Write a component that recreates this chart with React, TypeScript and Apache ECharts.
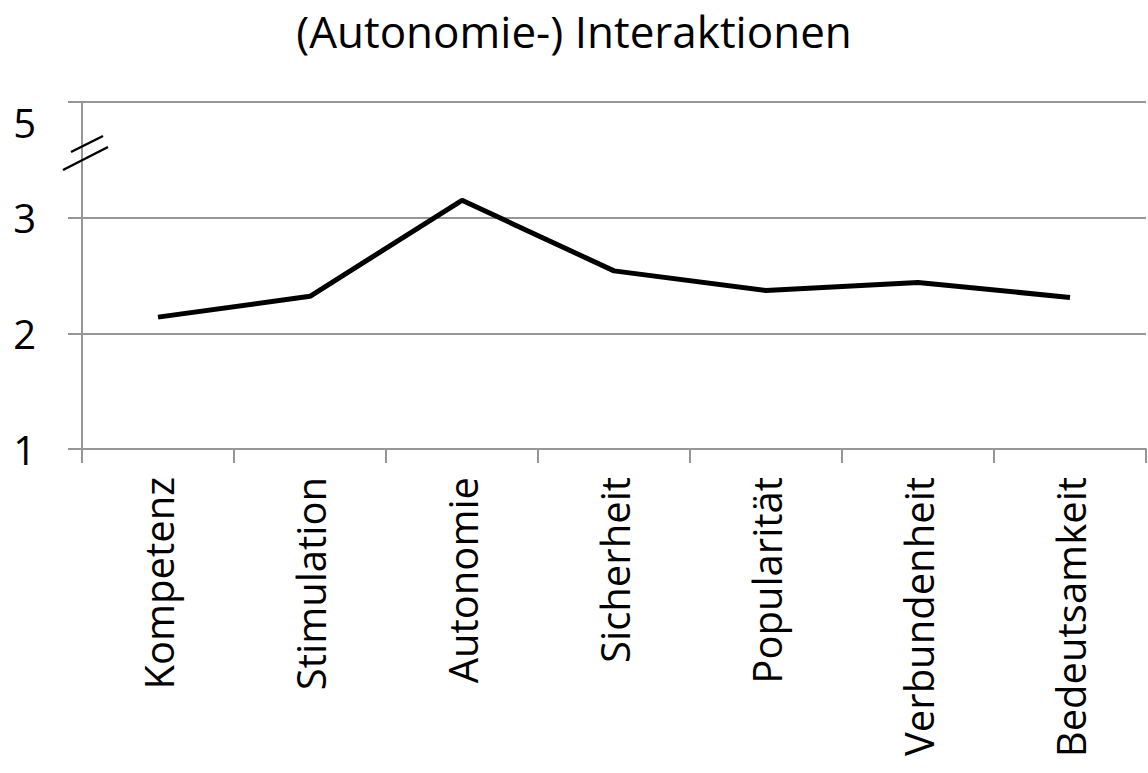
import React, { useEffect, useRef } from "react";
import * as echarts from "echarts";

const categories = ["Kompetenz", "Stimulation", "Autonomie", "Sicherheit", "Popularität", "Verbundenheit", "Bedeutsamkeit"];
const values = [2.14, 2.32, 3.15, 2.54, 2.37, 2.44, 2.31];
// axis position 4 is shown as "5" (broken axis)
const yTickLabels: Record<number, string> = { 1: "1", 2: "2", 3: "3", 4: "{top|5}" };
const title = "(Autonomie-) Interaktionen";

const FONT = "'Open Sans', sans-serif";
const GRAY = "#969696";

export default function App() {
  const ref = useRef<HTMLDivElement>(null);
  useEffect(() => {
    if (!ref.current) return;
    const chart = echarts.init(ref.current, undefined, { renderer: "svg" });
    chart.setOption({
      animation: false,
      backgroundColor: "#ffffff",
      title: {
        text: title,
        left: "center",
        top: 4,
        textStyle: { fontFamily: FONT, fontSize: 44, fontWeight: "normal", color: "#000" },
      },
      grid: { left: 82, right: 2, top: 102, bottom: 324, containLabel: false },
      xAxis: {
        type: "category",
        data: categories,
        boundaryGap: true,
        axisLine: { show: true, lineStyle: { color: GRAY, width: 2 } },
        axisTick: { show: true, length: 14, interval: 0, lineStyle: { color: GRAY, width: 2 } },
        axisLabel: {
          rotate: 90,
          interval: 0,
          margin: 28,
          fontFamily: FONT,
          fontSize: 40,
          color: "#000",
        },
      },
      yAxis: {
        type: "value",
        min: 1,
        max: 4,
        interval: 1,
        axisLine: { show: true, lineStyle: { color: GRAY, width: 2 } },
        axisTick: { show: true, length: 14, lineStyle: { color: GRAY, width: 2 } },
        splitLine: { show: true, lineStyle: { color: GRAY, width: 2 } },
        axisLabel: {
          margin: 46,
          fontFamily: FONT,
          fontSize: 40,
          color: "#000",
          formatter: (v: number) => yTickLabels[v] ?? "",
          rich: {
            top: { fontFamily: FONT, fontSize: 40, color: "#000", padding: [40, 0, 0, 0] },
          },
        },
      },
      series: [
        {
          type: "line",
          data: values,
          symbol: "none",
          lineStyle: { color: "#000", width: 5 },
          z: 5,
        },
      ],
      graphic: [
        { type: "line", shape: { x1: 71, y1: 152, x2: 103, y2: 136 }, style: { stroke: "#000", lineWidth: 2.5 }, z: 10 },
        { type: "line", shape: { x1: 63, y1: 170, x2: 108, y2: 147 }, style: { stroke: "#000", lineWidth: 2.5 }, z: 10 },
      ],
    });
    return () => chart.dispose();
  }, []);
  return <div ref={ref} style={{ width: 1148, height: 773, position: "absolute", left: 0, top: 0 }} />;
}
